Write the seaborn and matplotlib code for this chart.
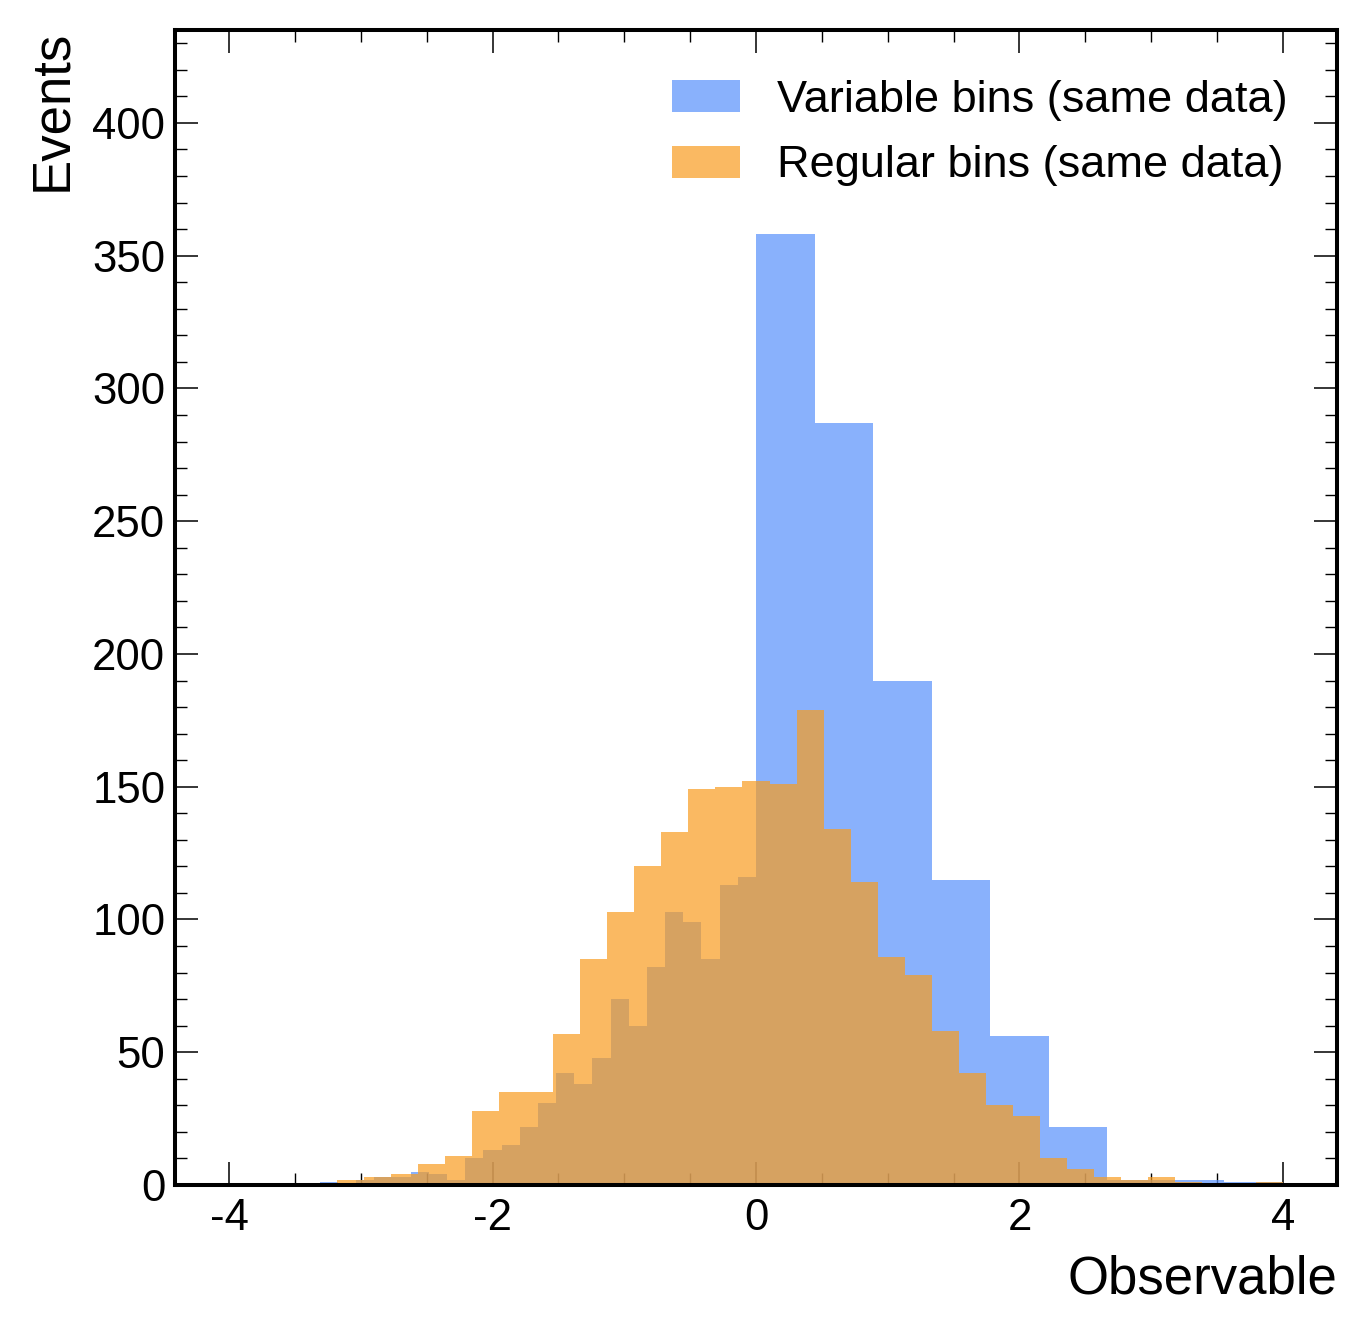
import numpy as np
import pandas as pd
import matplotlib
matplotlib.use("Agg")
import matplotlib.pyplot as plt
from matplotlib.ticker import MultipleLocator
import seaborn as sns

# ---- data ----
var_edges = np.concatenate([np.linspace(-4, 0, 30), np.linspace(0, 4, 10)[1:]])
var_counts = [0, 0, 0, 0, 0, 1, 0, 2, 3, 3,
              5, 4, 2, 10, 13, 15, 22, 31, 42, 38,
              48, 70, 60, 82, 103, 99, 85, 113, 116,
              358, 287, 190, 115, 56, 22, 2, 2, 1]
reg_edges = np.linspace(-4, 4, 40)
reg_counts = [0, 0, 0, 0, 2, 3, 4, 8, 11, 28,
              35, 35, 57, 85, 103, 120, 133, 149, 150, 152,
              151, 179, 134, 114, 86, 79, 58, 42, 30, 26,
              10, 6, 3, 2, 3, 1, 0, 0, 1]
labels = ["Variable bins (same data)", "Regular bins (same data)"]
colors = ["#5790fc", "#f89c20"]

var_df = pd.DataFrame({"x": 0.5 * (var_edges[:-1] + var_edges[1:]),
                       "w": np.asarray(var_counts, dtype=float)})
reg_df = pd.DataFrame({"x": 0.5 * (reg_edges[:-1] + reg_edges[1:]),
                       "w": np.asarray(reg_counts, dtype=float)})

sns.set_style("ticks")
plt.rcParams["font.family"] = ["Liberation Sans", "DejaVu Sans"]
plt.rcParams["axes.unicode_minus"] = False
for key in ["text.color", "axes.labelcolor", "xtick.color", "ytick.color",
            "xtick.labelcolor", "ytick.labelcolor", "axes.edgecolor"]:
    plt.rcParams[key] = "black"

fig = plt.figure(figsize=(13.67, 13.35), dpi=100)
ax = fig.add_axes([175 / 1367, 150 / 1335, (1337 - 175) / 1367, (1305 - 150) / 1335])

sns.histplot(data=var_df, x="x", weights="w", bins=list(var_edges), element="step",
             fill=True, alpha=0.7, linewidth=0, color=colors[0], label=labels[0], ax=ax)
sns.histplot(data=reg_df, x="x", weights="w", bins=list(reg_edges), element="step",
             fill=True, alpha=0.7, linewidth=0, color=colors[1], label=labels[1], ax=ax)

ax.set_xlim(-4.41, 4.41)
ax.set_ylim(0, 435)

ax.xaxis.set_major_locator(MultipleLocator(2))
ax.xaxis.set_minor_locator(MultipleLocator(0.5))
ax.yaxis.set_major_locator(MultipleLocator(50))
ax.yaxis.set_minor_locator(MultipleLocator(10))

ax.tick_params(which="both", direction="in", top=True, right=True,
               labelsize=31.5, color="black", labelcolor="black")
ax.tick_params(which="major", length=16.5, width=1.1)
ax.tick_params(axis="y", which="major", pad=7)
ax.tick_params(axis="x", which="major", pad=9)
ax.tick_params(which="minor", length=8.6, width=1.0)
for sp in ax.spines.values():
    sp.set_linewidth(2.9)
    sp.set_color("black")
    sp.set_visible(True)

ax.set_xlabel("Observable", loc="right", fontsize=38, color="black")
ax.set_ylabel("Events", loc="top", fontsize=38, color="black")
ax.xaxis.set_label_coords(1.0, -0.060)
ax.yaxis.set_label_coords(-0.084, 1.0)

ax.legend(loc="upper right", frameon=False, fontsize=32.5,
          handlelength=1.49, handleheight=0.71, handletextpad=0.82,
          labelspacing=0.55, borderaxespad=0.7)

fig.savefig("out.png", dpi=100)
